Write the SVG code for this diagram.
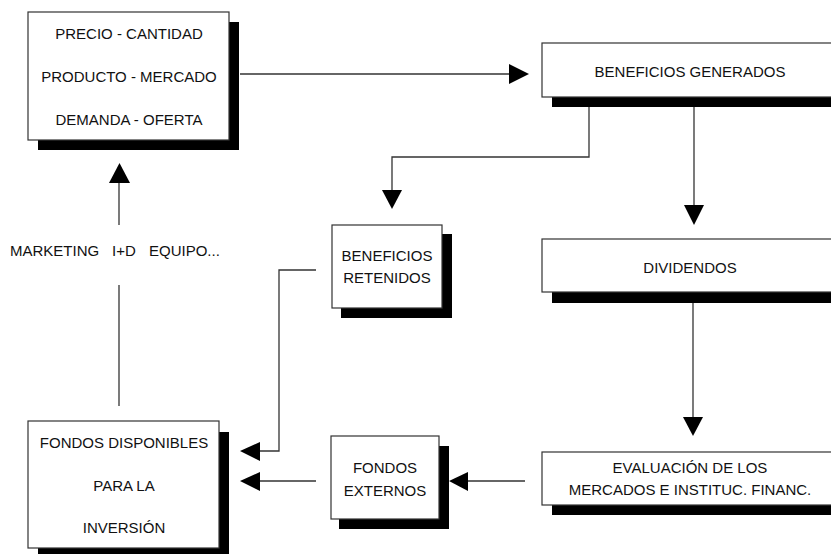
<svg xmlns="http://www.w3.org/2000/svg" width="831" height="554" viewBox="0 0 831 554">
<style>
.box{fill:#fff;stroke:#333;stroke-width:1.2}
.sh{fill:#000}
.t{font-family:"Liberation Sans",Arial,sans-serif;font-size:15px;fill:#111;text-anchor:middle}
.tl{font-family:"Liberation Sans",Arial,sans-serif;font-size:15px;fill:#111}
.c{fill:none;stroke:#333;stroke-width:1.3}
.ah{fill:#000}
</style>
<rect width="831" height="554" fill="#fff"/>
<g id="connectors">
<path class="c" d="M240 74 H510"/>
<polygon class="ah" points="509,64 529,74 509,84"/>
<path class="c" d="M589 98 V157 H392 V191"/>
<polygon class="ah" points="382,190 402,190 392,209"/>
<path class="c" d="M694 106 V206"/>
<polygon class="ah" points="684,205 704,205 694,225"/>
<path class="c" d="M693 303 V418"/>
<polygon class="ah" points="683,417 703,417 693,436"/>
<path class="c" d="M525 481 H467"/>
<polygon class="ah" points="468,472 468,491 449,481"/>
<path class="c" d="M316 481 H259"/>
<polygon class="ah" points="260,472 260,491 240,481"/>
<path class="c" d="M316 270 H279 V451 H259"/>
<polygon class="ah" points="260,442 260,461 240,451"/>
<path class="c" d="M119 406 V285"/>
<path class="c" d="M119 225 V182"/>
<polygon class="ah" points="109,183 130,183 119.5,163"/>
<text class="tl" y="256"><tspan x="10">MARKETING</tspan><tspan x="112">I+D</tspan><tspan x="149">EQUIPO...</tspan></text>
</g>
<g id="precio">
<rect class="sh" x="38" y="22" width="201" height="128"/>
<rect class="box" x="28" y="12" width="201" height="128"/>
<text class="t" x="129" y="39">PRECIO - CANTIDAD</text>
<text class="t" x="129" y="82">PRODUCTO - MERCADO</text>
<text class="t" x="129" y="124.5">DEMANDA - OFERTA</text>
</g>
<g id="beneficios-generados">
<rect class="sh" x="552" y="53" width="296" height="54"/>
<rect class="box" x="542" y="43" width="296" height="54"/>
<text class="t" x="690" y="76.5">BENEFICIOS GENERADOS</text>
</g>
<g id="beneficios-retenidos">
<rect class="sh" x="341" y="234" width="111" height="84"/>
<rect class="box" x="332" y="225" width="110" height="83"/>
<text class="t" x="387" y="261">BENEFICIOS</text>
<text class="t" x="387" y="282.5">RETENIDOS</text>
</g>
<g id="dividendos">
<rect class="sh" x="552" y="249" width="296" height="54"/>
<rect class="box" x="542" y="239" width="296" height="53"/>
<text class="t" x="690" y="272.5">DIVIDENDOS</text>
</g>
<g id="evaluacion">
<rect class="sh" x="552" y="462" width="296" height="53"/>
<rect class="box" x="542" y="452" width="296" height="53"/>
<text class="t" x="690" y="473">EVALUACIÓN DE LOS</text>
<text class="t" x="690" y="495">MERCADOS E INSTITUC. FINANC.</text>
</g>
<g id="fondos-externos">
<rect class="sh" x="339" y="446" width="110" height="83"/>
<rect class="box" x="331" y="436" width="108" height="83"/>
<text class="t" x="385" y="473">FONDOS</text>
<text class="t" x="385" y="496">EXTERNOS</text>
</g>
<g id="fondos-disponibles">
<rect class="sh" x="38" y="432" width="191" height="122"/>
<rect class="box" x="28" y="421" width="191" height="127"/>
<text class="t" x="124" y="448">FONDOS DISPONIBLES</text>
<text class="t" x="124" y="491">PARA LA</text>
<text class="t" x="124" y="533">INVERSIÓN</text>
</g>
</svg>
